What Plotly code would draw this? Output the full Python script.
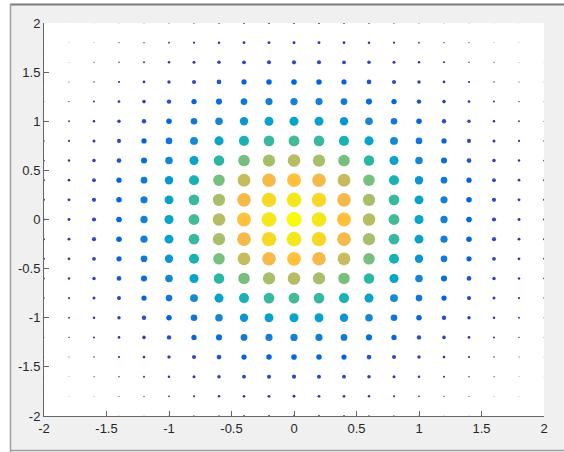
import numpy as np
import plotly.graph_objects as go

# grid positions (both axes)
grid = [-2.0, -1.8, -1.6, -1.4, -1.2, -1.0, -0.8, -0.6, -0.4, -0.2, 0.0,
        0.2, 0.4, 0.6, 0.8, 1.0, 1.2, 1.4, 1.6, 1.8, 2.0]
# separable profile of the value along each axis (value = px * py)
profile = [0.018, 0.039, 0.077, 0.141, 0.237, 0.368, 0.527, 0.698, 0.852, 0.961, 1.0,
           0.961, 0.852, 0.698, 0.527, 0.368, 0.237, 0.141, 0.077, 0.039, 0.018]

tick_vals = [-2, -1.5, -1, -0.5, 0, 0.5, 1, 1.5, 2]
tick_text = ["-2", "-1.5", "-1", "-0.5", "0", "0.5", "1", "1.5", "2"]

xs, ys, zs = [], [], []
for i, gx in enumerate(grid):
    for j, gy in enumerate(grid):
        xs.append(gx)
        ys.append(gy)
        zs.append(profile[i] * profile[j])
zs = np.array(zs)

parula_rgb = [
    (0.2081, 0.1663, 0.5292), (0.2116, 0.1898, 0.5777), (0.2123, 0.2138, 0.6270), (0.2081, 0.2386, 0.6771),
    (0.1959, 0.2645, 0.7279), (0.1707, 0.2919, 0.7792), (0.1253, 0.3242, 0.8303), (0.0591, 0.3598, 0.8683),
    (0.0117, 0.3875, 0.8820), (0.0060, 0.4086, 0.8828), (0.0165, 0.4266, 0.8786), (0.0329, 0.4430, 0.8720),
    (0.0498, 0.4586, 0.8641), (0.0629, 0.4737, 0.8554), (0.0723, 0.4887, 0.8467), (0.0779, 0.5040, 0.8384),
    (0.0793, 0.5200, 0.8312), (0.0749, 0.5375, 0.8263), (0.0641, 0.5570, 0.8240), (0.0488, 0.5772, 0.8228),
    (0.0343, 0.5966, 0.8199), (0.0265, 0.6137, 0.8135), (0.0239, 0.6287, 0.8038), (0.0231, 0.6418, 0.7913),
    (0.0228, 0.6535, 0.7768), (0.0267, 0.6642, 0.7607), (0.0384, 0.6743, 0.7436), (0.0590, 0.6838, 0.7254),
    (0.0843, 0.6928, 0.7062), (0.1133, 0.7015, 0.6859), (0.1453, 0.7098, 0.6646), (0.1801, 0.7177, 0.6424),
    (0.2178, 0.7250, 0.6193), (0.2586, 0.7317, 0.5954), (0.3022, 0.7376, 0.5712), (0.3482, 0.7424, 0.5473),
    (0.3953, 0.7459, 0.5244), (0.4420, 0.7481, 0.5033), (0.4871, 0.7491, 0.4840), (0.5300, 0.7491, 0.4661),
    (0.5709, 0.7485, 0.4494), (0.6099, 0.7473, 0.4337), (0.6473, 0.7456, 0.4188), (0.6834, 0.7435, 0.4044),
    (0.7184, 0.7411, 0.3905), (0.7525, 0.7384, 0.3768), (0.7858, 0.7356, 0.3633), (0.8185, 0.7327, 0.3498),
    (0.8507, 0.7299, 0.3360), (0.8824, 0.7274, 0.3217), (0.9139, 0.7258, 0.3063), (0.9450, 0.7261, 0.2886),
    (0.9739, 0.7314, 0.2666), (0.9938, 0.7455, 0.2403), (0.9990, 0.7653, 0.2164), (0.9955, 0.7861, 0.1967),
    (0.9880, 0.8066, 0.1794), (0.9789, 0.8271, 0.1633), (0.9697, 0.8481, 0.1475), (0.9626, 0.8705, 0.1309),
    (0.9589, 0.8949, 0.1132), (0.9598, 0.9218, 0.0948), (0.9661, 0.9514, 0.0755), (0.9763, 0.9831, 0.0538),
]
n = len(parula_rgb)
parula = [[k / (n - 1), "rgb(%d,%d,%d)" % tuple(round(c * 255) for c in rgb)]
          for k, rgb in enumerate(parula_rgb)]

fig = go.Figure()
fig.add_trace(go.Scatter(
    x=xs, y=ys, mode="markers",
    marker=dict(size=15 * np.sqrt(zs), color=zs, colorscale=parula,
                cmin=zs.min(), cmax=zs.max(), line=dict(width=0), opacity=1),
    hoverinfo="skip", showlegend=False,
))

axis_common = dict(
    range=[-2, 2], showgrid=False, zeroline=False, showline=True, mirror=False,
    linecolor="#666666", linewidth=1, ticks="inside", ticklen=5, tickcolor="#666666",
    tickwidth=1, tickvals=tick_vals, ticktext=tick_text,
    tickfont=dict(family="Liberation Sans, Arial, sans-serif", size=13, color="#262626"),
)
fig.update_xaxes(**axis_common)
fig.update_yaxes(**axis_common)

L, R, T, B = 44, 20, 23, 36
W, H = 564, 452
pw, ph = W - L - R, H - T - B

def px(x):
    return (x - L) / pw

def py(y):
    return (H - B - y) / ph

shapes = [
    # white outside of the window frame
    dict(type="rect", xref="paper", yref="paper", x0=px(-5), x1=px(10), y0=py(460), y1=py(-5),
         fillcolor="white", line=dict(width=0), layer="above"),
    dict(type="rect", xref="paper", yref="paper", x0=px(-5), x1=px(570), y0=py(4), y1=py(-5),
         fillcolor="white", line=dict(width=0), layer="above"),
    # frame lines
    dict(type="line", xref="paper", yref="paper", x0=px(10), x1=px(570), y0=py(4.5), y1=py(4.5),
         line=dict(color="#7a7a7a", width=2), layer="above"),
    dict(type="line", xref="paper", yref="paper", x0=px(10.5), x1=px(10.5), y0=py(4), y1=py(460),
         line=dict(color="#a0a0a0", width=1.5), layer="above"),
    dict(type="line", xref="paper", yref="paper", x0=px(10), x1=px(570), y0=py(450.5), y1=py(450.5),
         line=dict(color="#a0a0a0", width=1.5), layer="above"),
]

fig.update_layout(
    width=W, height=H, margin=dict(l=L, r=R, t=T, b=B, pad=0),
    paper_bgcolor="#f0f0f0", plot_bgcolor="white",
    shapes=shapes,
)

fig.write_html("out.html", config={"displayModeBar": False},
               post_script="document.body.style.margin='0';document.body.style.overflow='hidden';")
